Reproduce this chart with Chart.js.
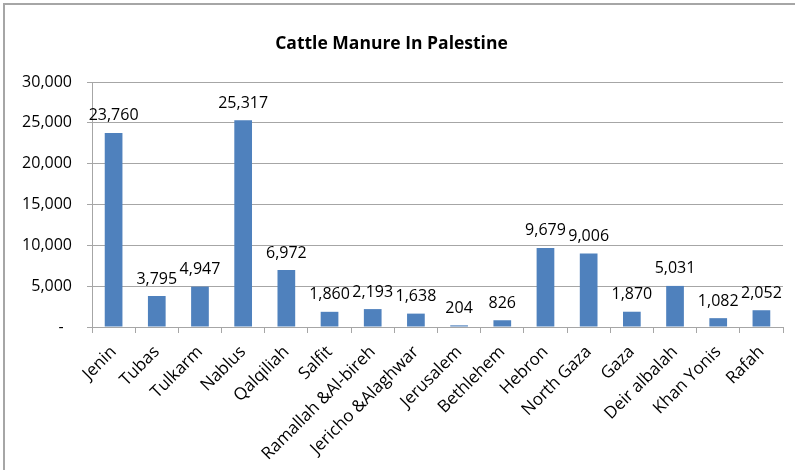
<!DOCTYPE html>
<html>
<head>
<meta charset="utf-8">
<script src="https://cdn.jsdelivr.net/npm/chart.js@4.4.1/dist/chart.umd.min.js"></script>
<style>
  html, body { margin: 0; padding: 0; background: #fff; }
  #wrap { width: 795px; height: 470px; position: relative; }
</style>
</head>
<body>
<div id="wrap"><canvas id="c" width="795" height="470"></canvas></div>
<script>
// Governorates
const categories = [
  'Jenin', 'Tubas', 'Tulkarm', 'Nablus', 'Qalqiliah', 'Salfit',
  'Ramallah &Al-bireh', 'Jericho &Alaghwar', 'Jerusalem', 'Bethlehem',
  'Hebron', 'North Gaza', 'Gaza', 'Deir albalah', 'Khan Yonis', 'Rafah'
];
// Cattle manure per governorate
const manure = [
  23760, 3795, 4947, 25317, 6972, 1860,
  2193, 1638, 204, 826,
  9679, 9006, 1870, 5031, 1082, 2052
];
// Value axis ticks
const yTicks = [0, 5000, 10000, 15000, 20000, 25000, 30000];

const titleText = 'Cattle Manure In Palestine';
const axisGray = '#a6a6a6';
const barBlue = '#4f81bd';

const fmt = v => v.toLocaleString('en-US');

Chart.defaults.font.family = "'Open Sans', 'Noto Sans', sans-serif";
Chart.defaults.font.size = 16;
Chart.defaults.color = '#000';

// Frame around the chart (left and top edges visible)
const framePlugin = {
  id: 'frame',
  beforeDraw(chart) {
    const ctx = chart.ctx;
    ctx.save();
    ctx.strokeStyle = '#a6a6a6';
    ctx.lineWidth = 2;
    ctx.beginPath();
    ctx.moveTo(4, chart.height);
    ctx.lineTo(4, 4);
    ctx.lineTo(chart.width, 4);
    ctx.stroke();
    ctx.restore();
  }
};

// Value labels above each bar
const valueLabels = {
  id: 'valueLabels',
  afterDatasetsDraw(chart) {
    const ctx = chart.ctx;
    const meta = chart.getDatasetMeta(0);
    const data = chart.data.datasets[0].data;
    ctx.save();
    ctx.font = "16px 'Open Sans', 'Noto Sans', sans-serif";
    ctx.fillStyle = '#000';
    ctx.textAlign = 'center';
    ctx.textBaseline = 'alphabetic';
    meta.data.forEach((bar, i) => {
      ctx.fillText(fmt(data[i]), bar.x, bar.y - 12.5);
    });
    ctx.restore();
  }
};

new Chart(document.getElementById('c'), {
  type: 'bar',
  data: {
    labels: categories,
    datasets: [{
      data: manure,
      backgroundColor: barBlue,
      borderWidth: 0,
      categoryPercentage: 1,
      barPercentage: 0.41
    }]
  },
  options: {
    responsive: false,
    animation: false,
    layout: { padding: { left: 0, right: 12, top: 0, bottom: 0 } },
    plugins: {
      legend: { display: false },
      tooltip: { enabled: false },
      title: {
        display: true,
        text: titleText,
        font: { size: 17.5, weight: 'bold' },
        color: '#000',
        padding: { top: 34, bottom: 27 }
      }
    },
    scales: {
      x: {
        offset: true,
        grid: {
          display: true,
          drawOnChartArea: false,
          drawTicks: true,
          tickLength: 6,
          color: axisGray,
          offset: true
        },
        border: { color: axisGray, width: 1 },
        ticks: {
          autoSkip: false,
          maxRotation: 45,
          minRotation: 45,
          padding: 9,
          font: { size: 17 },
          color: '#000'
        },
        afterFit(scale) { scale.height = 143; }
      },
      y: {
        min: 0,
        max: 30000,
        afterBuildTicks(scale) {
          scale.ticks = yTicks.map(v => ({ value: v }));
        },
        grid: {
          color: axisGray,
          lineWidth: 1,
          drawTicks: true,
          tickLength: 5
        },
        border: { color: axisGray, width: 1 },
        ticks: {
          padding: 15,
          color: '#000',
          callback: v => (v === 0 ? '-  ' : fmt(v))
        },
        afterFit(scale) { scale.width = 92; }
      }
    }
  },
  plugins: [framePlugin, valueLabels]
});
</script>
</body>
</html>
